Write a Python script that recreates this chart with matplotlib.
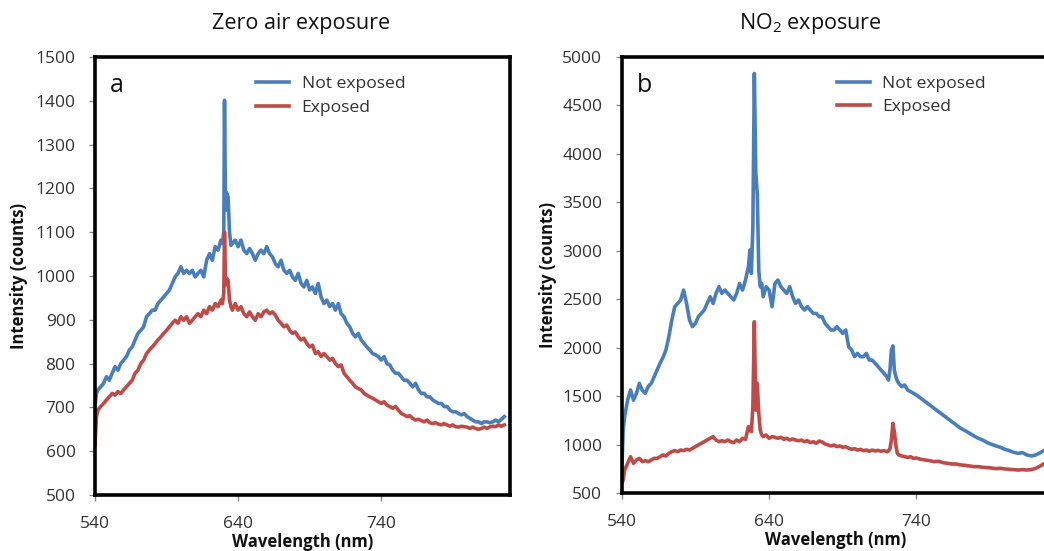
import matplotlib
matplotlib.use("Agg")
import matplotlib.pyplot as plt

plt.rcParams['font.family'] = ['Open Sans', 'DejaVu Sans']
plt.rcParams['mathtext.fontset'] = 'custom'
plt.rcParams['mathtext.rm'] = 'Open Sans'
plt.rcParams['mathtext.it'] = 'Open Sans'

# ---------------- Panel a: zero air exposure ----------------
wl_a = [540, 541, 542, 544, 546, 548, 550, 552, 554, 556, 558, 560, 562, 564, 566, 568, 570,
        572, 574, 576, 578, 580, 582, 584, 586, 588, 590, 592, 594, 596, 598, 600, 602, 604,
        606, 608, 610, 612, 614, 616, 618, 620, 622, 624, 626, 628, 629, 630, 630.5, 631.2,
        632, 633, 634, 635, 636, 638, 640, 642, 644, 646, 648, 650, 652, 654, 656, 658, 660,
        662, 664, 666, 668, 670, 672, 674, 676, 678, 680, 682, 684, 686, 688, 690, 692, 694,
        696, 698, 700, 702, 704, 706, 708, 710, 712, 714, 716, 718, 720, 722, 724, 726, 728,
        730, 732, 734, 736, 738, 740, 742, 744, 746, 748, 750, 752, 754, 756, 758, 760, 762,
        764, 766, 768, 770, 772, 774, 776, 778, 780, 782, 784, 786, 788, 790, 792, 794, 796,
        798, 800, 802, 804, 806, 808, 810, 812, 814, 816, 818, 820, 822, 824, 826]
not_exposed_a = [701, 732, 740, 747, 755, 770, 762, 778, 793, 785, 800, 808, 816, 831, 838, 854,
                 869, 876, 884, 907, 914, 922, 922, 937, 945, 952, 960, 968, 983, 998, 1006, 1021,
                 1006, 1013, 1006, 1013, 998, 1006, 1013, 998, 1036, 1051, 1036, 1067, 1059, 1082,
                 1074, 1100, 1401, 1150, 1190, 1180, 1100, 1070, 1074, 1082, 1067, 1082, 1059,
                 1051, 1063, 1051, 1036, 1051, 1059, 1051, 1067, 1051, 1044, 1028, 1021, 1036,
                 1013, 1006, 1013, 998, 990, 1006, 983, 975, 990, 968, 975, 960, 983, 952, 937,
                 945, 930, 937, 922, 937, 914, 907, 892, 884, 869, 861, 869, 854, 846, 838, 831,
                 823, 820, 816, 808, 816, 800, 797, 785, 778, 778, 770, 762, 762, 755, 747, 755,
                 740, 732, 732, 724, 724, 717, 713, 709, 709, 702, 702, 694, 690, 690, 686, 683,
                 686, 679, 675, 671, 667, 667, 663, 667, 667, 665, 667, 671, 667, 673, 679]
exposed_a = [614, 679, 694, 702, 709, 717, 724, 732, 728, 736, 732, 740, 747, 755, 762, 778, 785,
             800, 808, 823, 831, 838, 846, 854, 861, 869, 876, 884, 892, 899, 892, 907, 899, 907,
             892, 899, 907, 914, 907, 922, 914, 930, 922, 937, 930, 945, 937, 960, 1100, 980,
             995, 990, 945, 930, 922, 937, 922, 930, 914, 907, 918, 907, 899, 914, 907, 918,
             922, 914, 918, 911, 899, 892, 884, 888, 876, 869, 872, 861, 854, 858, 846, 838,
             842, 823, 827, 816, 823, 816, 808, 812, 800, 793, 797, 778, 770, 762, 755, 747,
             743, 740, 732, 728, 724, 721, 717, 713, 709, 713, 705, 702, 698, 702, 694, 686,
             683, 679, 681, 675, 671, 673, 670, 667, 671, 665, 663, 665, 662, 660, 663, 660,
             657, 660, 656, 655, 657, 656, 655, 652, 655, 652, 650, 652, 655, 652, 656, 657,
             656, 660, 657, 660]

# ---------------- Panel b: NO2 exposure ----------------
wl_b = [540, 541, 542, 544, 546, 548, 550, 552, 554, 556, 558, 560, 562, 564, 566, 568, 570,
        572, 574, 576, 578, 580, 582, 584, 586, 588, 590, 592, 594, 596, 598, 600, 602, 604,
        606, 608, 610, 612, 614, 616, 618, 620, 622, 624, 626, 627, 628, 629, 630, 631, 632,
        633, 634, 635, 636, 638, 640, 642, 644, 646, 648, 650, 652, 654, 656, 658, 660, 662,
        664, 666, 668, 670, 672, 674, 676, 678, 680, 682, 684, 686, 688, 690, 692, 694, 696,
        698, 700, 702, 704, 706, 708, 710, 712, 714, 716, 718, 720, 721, 722, 723, 724, 725,
        726, 727, 728, 730, 732, 734, 736, 738, 740, 743, 746, 749, 752, 755, 758, 761, 764,
        767, 770, 773, 776, 779, 782, 785, 788, 791, 794, 797, 800, 803, 806, 809, 812, 815,
        818, 821, 824, 827]
not_exposed_b = [706, 1152, 1290, 1460, 1565, 1460, 1530, 1633, 1560, 1530, 1600, 1633, 1700,
                 1770, 1840, 1900, 1977, 2114, 2286, 2423, 2457, 2492, 2595, 2457, 2286, 2217,
                 2251, 2320, 2354, 2389, 2457, 2526, 2457, 2560, 2629, 2560, 2595, 2560, 2526,
                 2492, 2560, 2663, 2595, 2698, 2835, 3007, 2766, 3247, 4827, 3797, 3590, 2800,
                 2629, 2663, 2526, 2629, 2595, 2423, 2663, 2698, 2629, 2595, 2560, 2629, 2526,
                 2457, 2492, 2423, 2389, 2423, 2389, 2354, 2354, 2320, 2320, 2251, 2217, 2183,
                 2183, 2217, 2183, 2148, 2183, 2011, 1977, 1908, 1942, 1908, 1908, 1942, 1873,
                 1873, 1840, 1805, 1770, 1736, 1700, 1667, 1770, 1977, 2020, 1770, 1702, 1660,
                 1633, 1599, 1616, 1565, 1547, 1530, 1513, 1479, 1444, 1410, 1376, 1341, 1307,
                 1273, 1238, 1204, 1170, 1146, 1118, 1091, 1067, 1049, 1022, 1005, 988, 974, 953,
                 940, 922, 912, 919, 895, 885, 895, 919, 946]
exposed_b = [600, 637, 740, 809, 877, 809, 843, 860, 826, 836, 826, 843, 860, 860, 877, 895, 884,
             912, 929, 940, 929, 946, 940, 953, 946, 964, 981, 998, 1015, 1032, 1049, 1067, 1084,
             1049, 1032, 1042, 1032, 1049, 1032, 1022, 1049, 1032, 1067, 1056, 1187, 1152, 1135,
             1393, 2268, 1358, 1633, 1324, 1152, 1101, 1084, 1101, 1067, 1084, 1077, 1067, 1077,
             1056, 1067, 1049, 1060, 1049, 1042, 1049, 1032, 1042, 1022, 1032, 1015, 1039, 1029,
             1008, 998, 988, 998, 981, 988, 974, 981, 964, 953, 960, 946, 953, 940, 946, 933,
             946, 936, 943, 933, 940, 929, 936, 960, 1049, 1221, 1135, 998, 912, 895, 885, 877,
             870, 877, 860, 864, 850, 843, 836, 826, 830, 816, 809, 802, 802, 792, 788, 782, 775,
             775, 768, 764, 761, 754, 758, 751, 747, 744, 740, 744, 740, 744, 758, 782, 809]

series_labels = ["Not exposed", "Exposed"]
x_ticks = [540, 640, 740]
y_ticks_a = list(range(500, 1501, 100))
y_ticks_b = list(range(500, 5001, 500))

BLUE = "#4a7ebb"
RED = "#be4b48"
TXT = "#333333"

fig = plt.figure(figsize=(10.44, 5.51), dpi=100)
ax_a = fig.add_axes([95 / 1044, 56 / 551, 415 / 1044, 438 / 551])
ax_b = fig.add_axes([621.7 / 1044, 57.7 / 551, 427.4 / 1044, 436.6 / 551])


def style(ax, yticks, ylim, panel, leg_x):
    ax.set_xlim(540, 830)
    ax.set_ylim(*ylim)
    ax.set_xticks(x_ticks)
    ax.set_yticks(yticks)
    ax.set_xticklabels([str(t) for t in x_ticks])
    ax.set_yticklabels([str(t) for t in yticks])
    for s in ax.spines.values():
        s.set_linewidth(2.6)
        s.set_color("black")
    ax.tick_params(axis="both", direction="out", length=4, width=1, color="#888888",
                   labelsize=12.5, labelcolor=TXT)
    ax.tick_params(axis="y", pad=10)
    ax.tick_params(axis="x", pad=11)
    ax.set_xlabel("Wavelength (nm)", fontsize=12, fontweight="bold", color="#111111", va="center")
    ax.xaxis.set_label_coords(0.5, -0.108)
    ax.set_ylabel("Intensity (counts)", fontsize=12, fontweight="bold", color="#111111", va="center")
    ax.text(0.036, 0.92, panel, transform=ax.transAxes, fontsize=18, color="#111111",
            va="baseline", ha="left")
    ax.legend(series_labels, loc="upper left", bbox_to_anchor=(leg_x, 0.957), frameon=False,
              fontsize=12.6, handlelength=1.9, handletextpad=0.7, labelspacing=0.42,
              borderpad=0, borderaxespad=0, labelcolor=TXT)


ax_a.plot(wl_a, not_exposed_a, color=BLUE, lw=2.6, solid_joinstyle="round")
ax_a.plot(wl_a, exposed_a, color=RED, lw=2.6, solid_joinstyle="round")
style(ax_a, y_ticks_a, (500, 1500), "a", 0.388)
ax_a.yaxis.set_label_coords(-0.183, 0.5)

ax_b.plot(wl_b, not_exposed_b, color=BLUE, lw=2.6, solid_joinstyle="round")
ax_b.plot(wl_b, exposed_b, color=RED, lw=2.6, solid_joinstyle="round")
style(ax_b, y_ticks_b, (500, 5000), "b", 0.503)
ax_b.yaxis.set_label_coords(-0.172, 0.5)

fig.text(301 / 1044, 1 - 23 / 551, "Zero air exposure", fontsize=15.5, ha="center", va="center",
         color="#111111")
fig.text(810 / 1044, 1 - 23 / 551, r"NO$_2$ exposure", fontsize=15.5, ha="center", va="center",
         color="#111111")

fig.savefig("out.png", dpi=100)
